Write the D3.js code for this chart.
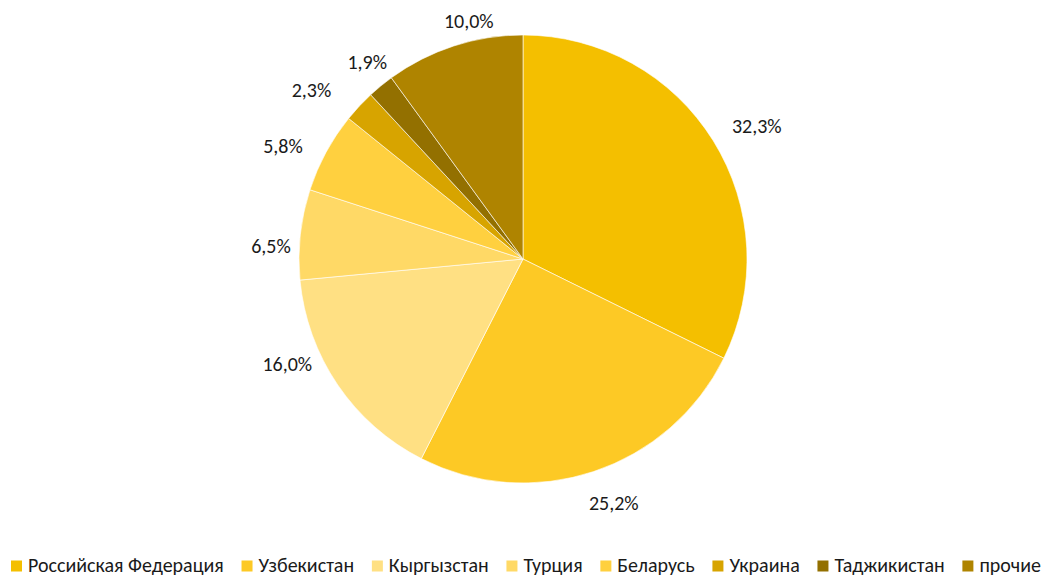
<!DOCTYPE html>
<html><head><meta charset="utf-8">
<script src="https://cdn.jsdelivr.net/npm/d3@7"></script>
<style>body{margin:0;background:#fff;} svg{display:block;}</style>
</head><body>
<svg id="c" width="1044" height="577"></svg>
<script>
const categories = ["Российская Федерация","Узбекистан","Кыргызстан","Турция","Беларусь","Украина","Таджикистан","прочие"];
const values = [32.3, 25.2, 16.0, 6.5, 5.8, 2.3, 1.9, 10.0];
const labels = ["32,3%","25,2%","16,0%","6,5%","5,8%","2,3%","1,9%","10,0%"];
const colors = ["#F4BF00","#FDC925","#FFE083","#FFD966","#FFD03F","#D7A400","#937000","#AF8400"];
// small manual nudges of the data labels (px), as placed in the original
const labelNudge = [[8,7],[10,1],[-16,-44],[7,16],[-10,12],[-21,9],[9,3],[25,6]];

const svg = d3.select("#c");
const cx = 523, cy = 259, R = 224;
const font = "Carlito, Calibri, Lato, sans-serif";
const fs = 20;

const pie = d3.pie().sort(null).value(d => d);
const arcs = pie(values);
const arc = d3.arc().innerRadius(0).outerRadius(R);

const g = svg.append("g").attr("transform", `translate(${cx},${cy})`);
g.selectAll("path").data(arcs).enter().append("path")
  .attr("d", arc)
  .attr("fill", (d,i) => colors[i])
  .attr("stroke", "#fff").attr("stroke-width", 0.6);

const gap = 16;
g.selectAll("text.lbl").data(arcs).enter().append("text")
  .attr("class","lbl")
  .attr("font-family", font).attr("font-size", fs).attr("fill", "#1a1a1a")
  .attr("text-anchor","middle").attr("dominant-baseline","central")
  .text((d,i) => labels[i])
  .each(function(d,i){
    const w = this.getComputedTextLength();
    const h = 18;
    const a = (d.startAngle + d.endAngle)/2;
    const s = Math.sin(a), c = Math.cos(a);
    const dist = R + gap + (w/2)*Math.abs(s) + (h/2)*Math.abs(c);
    d3.select(this).attr("x", dist*s + labelNudge[i][0]).attr("y", -dist*c + labelNudge[i][1]);
  });

// legend
const legY = 565, sq = 11, sqGap = 6, left = 11, right = 1041;
const lg = svg.append("g");
const items = lg.selectAll("g").data(categories).enter().append("g");
items.append("rect").attr("width", sq).attr("height", sq).attr("y", legY - sq/2 + 1)
  .attr("fill", (d,i) => colors[i]);
items.append("text").attr("x", sq + sqGap).attr("y", legY)
  .attr("font-family", font).attr("font-size", fs).attr("fill", "#1a1a1a")
  .attr("dominant-baseline","central").text(d => d);
const widths = [];
items.each(function(){ widths.push(sq + sqGap + d3.select(this).select("text").node().getComputedTextLength()); });
const total = d3.sum(widths);
const between = (right - left - total) / (categories.length - 1);
let x = left;
items.each(function(d,i){ d3.select(this).attr("transform", `translate(${x},0)`); x += widths[i] + between; });
</script>
</body></html>
